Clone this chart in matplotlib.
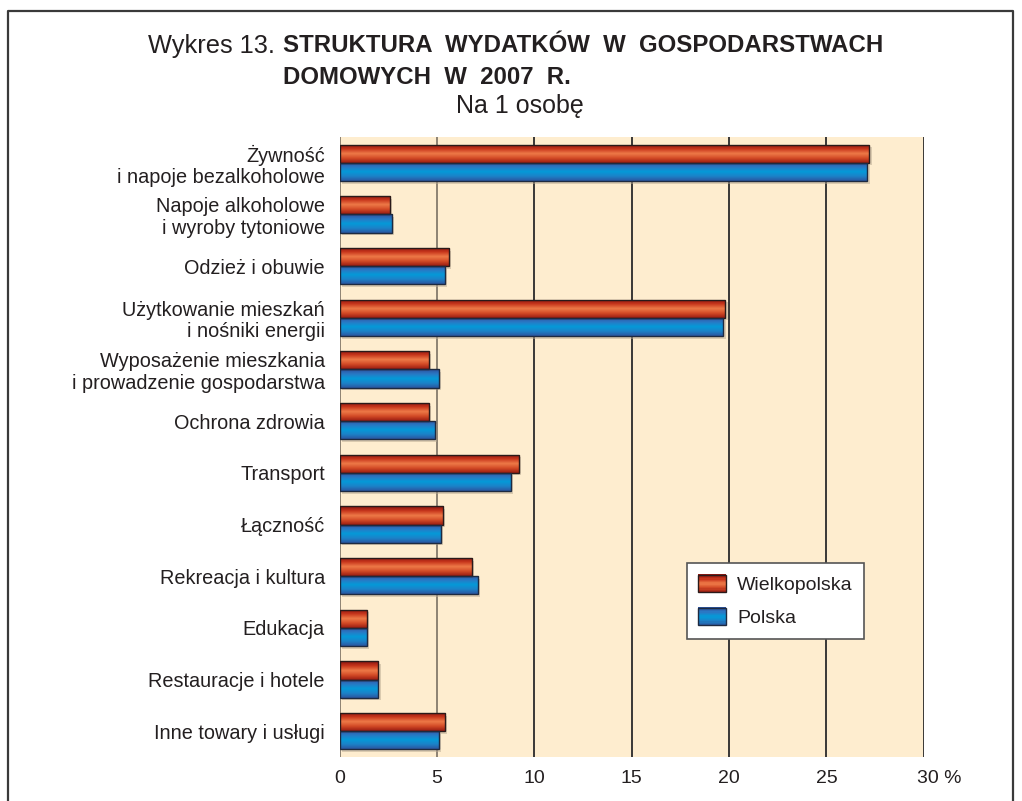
import numpy as np
import matplotlib
matplotlib.use("Agg")
import matplotlib.pyplot as plt
from matplotlib.colors import LinearSegmentedColormap
from matplotlib.patches import Rectangle
from matplotlib.legend_handler import HandlerBase
from matplotlib.lines import Line2D
from matplotlib.transforms import ScaledTranslation

plt.rcParams['font.family'] = ['Liberation Sans', 'DejaVu Sans']

# data
categories = [
    "Żywność\ni napoje bezalkoholowe",
    "Napoje alkoholowe\ni wyroby tytoniowe",
    "Odzież i obuwie",
    "Użytkowanie mieszkań\ni nośniki energii",
    "Wyposażenie mieszkania\ni prowadzenie gospodarstwa",
    "Ochrona zdrowia",
    "Transport",
    "Łączność",
    "Rekreacja i kultura",
    "Edukacja",
    "Restauracje i hotele",
    "Inne towary i usługi",
]
wielkopolska = [27.2, 2.6, 5.6, 19.8, 4.6, 4.6, 9.2, 5.3, 6.8, 1.4, 2.0, 5.4]
polska = [27.1, 2.7, 5.4, 19.7, 5.1, 4.9, 8.8, 5.2, 7.1, 1.4, 2.0, 5.1]
xticks = [0, 5, 10, 15, 20, 25, 30]
xtick_labels = ["0", "5", "10", "15", "20", "25", "30 %"]

# gradient colour maps (top -> middle -> bottom of a bar)
red_cmap = LinearSegmentedColormap.from_list(
    "red", ["#8a1410", "#c8361c", "#ee7a48", "#d24a26", "#9a1c12"])
blue_cmap = LinearSegmentedColormap.from_list(
    "blue", ["#2c4f9c", "#2a78c4", "#049ad8", "#1c82c8", "#2a56a0"])
bg_color = "#feedcf"

fig = plt.figure(figsize=(10.22, 8.01), dpi=100)
ax = fig.add_axes([0.3322, 0.0549, 0.904 - 0.3322, 0.829 - 0.0549])
ax.set_facecolor(bg_color)

y = np.arange(len(categories))
h = 0.352
bars_w = ax.barh(y - h / 2, wielkopolska, height=h, facecolor="none",
                 edgecolor="#2a1a1a", linewidth=1.0, zorder=4)
bars_p = ax.barh(y + h / 2, polska, height=h, facecolor="none",
                 edgecolor="#1e2a40", linewidth=1.0, zorder=4)

grad = np.linspace(0, 1, 64).reshape(-1, 1)


def fill_gradient(bars, cmap):
    for b in bars:
        x0, y0 = b.get_x(), b.get_y()
        w, hh = b.get_width(), b.get_height()
        # soft shadow behind each bar
        ax.add_patch(Rectangle((x0 + 0.12, y0 + 0.05), w, hh,
                               facecolor="#b8a890", alpha=0.5,
                               edgecolor="none", zorder=2))
        im = ax.imshow(grad, extent=[x0, x0 + w, y0 + hh, y0],
                       aspect="auto", cmap=cmap, zorder=3,
                       interpolation="bilinear")
        im.set_clip_path(b)


fill_gradient(bars_w, red_cmap)
fill_gradient(bars_p, blue_cmap)

ax.set_xlim(0, 30)
ax.set_ylim(len(categories) - 0.5, -0.5)

# vertical grid lines
for xv in xticks:
    col = "#857a6c" if xv in (0, 5) else "#2a2a2a"
    ax.axvline(xv, color=col, linewidth=1.3, zorder=1)

for s in ax.spines.values():
    s.set_visible(False)

ax.set_xticks(xticks)
ax.set_xticklabels(xtick_labels, fontsize=14, color="#231f20")
ax.set_yticks(y)
ax.set_yticklabels(categories, fontsize=14.3, color="#231f20",
                   linespacing=1.15)
ax.tick_params(axis="x", length=0, pad=9)
ax.tick_params(axis="y", length=0, pad=10.5)
last = ax.get_xticklabels()[-1]
last.set_horizontalalignment("left")
last.set_transform(last.get_transform()
                   + ScaledTranslation(-7 / 100, 0, fig.dpi_scale_trans))


# legend with gradient patches
class GradientHandler(HandlerBase):
    def __init__(self, cmap, edge):
        super().__init__()
        self.cmap = cmap
        self.edge = edge

    def create_artists(self, legend, orig_handle, xdescent, ydescent,
                       width, height, fontsize, trans):
        arts = []
        n = 14
        for i in range(n):
            c = self.cmap(1 - (i + 0.5) / n)
            arts.append(Rectangle((-xdescent, -ydescent + height * i / n),
                                  width, height / n + 0.3, facecolor=c,
                                  edgecolor="none", transform=trans))
        arts.append(Rectangle((-xdescent, -ydescent), width, height,
                              facecolor="none", edgecolor=self.edge,
                              linewidth=1.0, transform=trans))
        return arts


hw = Rectangle((0, 0), 1, 1)
hp = Rectangle((0, 0), 1, 1)
leg = ax.legend([hw, hp], ["Wielkopolska", "Polska"],
                handler_map={hw: GradientHandler(red_cmap, "#2a1a1a"),
                             hp: GradientHandler(blue_cmap, "#1e2a40")},
                loc="upper left", bbox_to_anchor=(0.594, 0.313),
                fontsize=14, frameon=True, fancybox=False,
                edgecolor="#555555", facecolor="white", framealpha=1,
                handlelength=1.45, handleheight=1.0, handletextpad=0.55,
                labelspacing=0.7, borderpad=0.6, borderaxespad=0)
leg.get_frame().set_linewidth(1.2)
leg.set_zorder(6)
for t in leg.get_texts():
    t.set_color("#231f20")

# title
fig.text(148 / 1022, 1 - 46 / 801, "Wykres 13.", fontsize=18.3,
         color="#231f20", ha="left", va="center")
fig.text(283 / 1022, 1 - 46 / 801,
         "STRUKTURA  WYDATKÓW  W  GOSPODARSTWACH", fontsize=17.3,
         fontweight="bold", color="#231f20", ha="left", va="center")
fig.text(283 / 1022, 1 - 78 / 801, "DOMOWYCH  W  2007  R.", fontsize=17.3,
         fontweight="bold", color="#231f20", ha="left", va="center")
fig.text(520 / 1022, 1 - 106 / 801, "Na 1 osobę", fontsize=18,
         color="#231f20", ha="center", va="center")

# outer frame (left, top, right)
frame_x = [8 / 1022, 8 / 1022, 1013 / 1022, 1013 / 1022]
frame_y = [0, 1 - 11 / 801, 1 - 11 / 801, 0]
fig.add_artist(Line2D(frame_x, frame_y, color="#3a3a3a", linewidth=1.6))

fig.savefig("out.png", dpi=100, facecolor="white")
